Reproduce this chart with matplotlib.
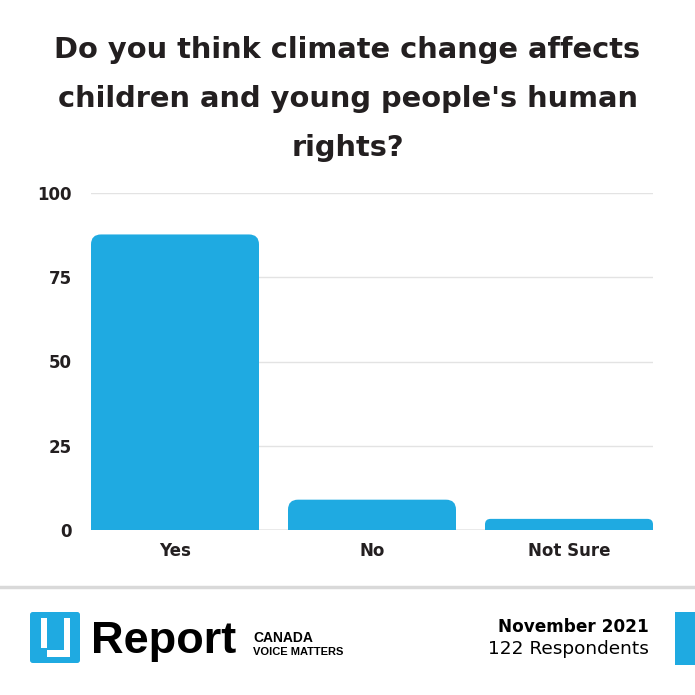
import matplotlib.pyplot as plt
from matplotlib.patches import Rectangle, FancyBboxPatch

# Survey data
categories = ["Yes", "No", "Not Sure"]
values = [87.7, 9.0, 3.3]
yticks = [0, 25, 50, 75, 100]

title_lines = ["Do you think climate change affects",
               "children and young people's human",
               "rights?"]
blue = "#1faae1"
dark = "#231f20"

plt.rcParams['font.family'] = ['DejaVu Sans']

fig = plt.figure(figsize=(6.95, 6.95), dpi=100)
W = H = 695.0

# axes placed in pixel terms
ax = fig.add_axes([91 / W, 1 - 530 / H, (653 - 91) / W, (530 - 193) / H])

w = 168 / 197
px_x = 197.0   # pixels per x unit
px_y = 3.37    # pixels per y unit
x = range(len(categories))
for xi, v in zip(x, values):
    r_px = min(10.0, v * px_y / 2)
    bar = FancyBboxPatch((xi - w / 2, 0), w, v,
                         boxstyle="round,pad=0,rounding_size=%f" % (r_px / px_x),
                         mutation_aspect=px_x / px_y,
                         facecolor=blue, edgecolor="none", zorder=3)
    ax.add_patch(bar)
    # square off the bottom corners
    ax.add_patch(Rectangle((xi - w / 2, 0), w, v / 2, facecolor=blue,
                           edgecolor="none", zorder=3))

ax.set_xlim(-w / 2, 2 + w / 2)
ax.set_ylim(0, 100)
ax.set_xticks(list(x))
ax.set_xticklabels(categories, fontsize=12, fontweight="bold", color=dark)
ax.set_yticks(yticks)
ax.set_yticklabels([str(t) for t in yticks], fontsize=12, fontweight="bold", color=dark)
ax.tick_params(length=0, pad=14, axis="y")
ax.tick_params(length=0, pad=9, axis="x")
for s in ax.spines.values():
    s.set_visible(False)
ax.grid(axis="y", color="#e3e3e3", linewidth=1, zorder=0)
ax.axhline(0, color="#b0b0b0", linewidth=1, zorder=2)

for i, line in enumerate(title_lines):
    fig.text(0.5, 1 - (50 + 49 * i) / H, line, ha="center", va="center",
             fontsize=20.8, fontweight="bold", color=dark)

# footer separator
fig.add_artist(plt.Line2D([0, 1], [1 - 587 / H, 1 - 587 / H], color="#d9d9d9",
                          linewidth=2.5, transform=fig.transFigure))

# logo
def px(x0, y0, x1, y1, color):
    fig.add_artist(Rectangle((x0 / W, 1 - y1 / H), (x1 - x0) / W, (y1 - y0) / H,
                             facecolor=color, edgecolor="none",
                             transform=fig.transFigure))

fig.add_artist(FancyBboxPatch((30 / W, 1 - 663 / H), 50 / W, 51 / H,
                              boxstyle="round,pad=0,rounding_size=0.004",
                              facecolor=blue, edgecolor="none",
                              transform=fig.transFigure))
px(41, 618, 47, 648, "white")
px(47, 650, 70, 657, "white")
px(64, 618, 70, 657, "white")

fig.text(91 / W, 1 - 653 / H, "Report", fontsize=32.5, fontweight="bold",
         family=["Liberation Sans", "DejaVu Sans"], color="black",
         ha="left", va="baseline")
fig.text(253 / W, 1 - 642 / H, "CANADA", fontsize=10, fontweight="bold",
         family=["Liberation Sans", "DejaVu Sans"], color="black",
         ha="left", va="baseline")
fig.text(253 / W, 1 - 655 / H, "VOICE MATTERS", fontsize=8, fontweight="bold",
         family=["Liberation Sans", "DejaVu Sans"], color="black",
         ha="left", va="baseline")

fig.text(649 / W, 1 - 632 / H, "November 2021", fontsize=12.2, fontweight="bold",
         color="black", ha="right", va="baseline")
fig.text(649 / W, 1 - 654 / H, "122 Respondents", fontsize=13.3,
         color="black", ha="right", va="baseline")
px(675, 612, 695, 665, blue)

fig.savefig("out.png", dpi=100, facecolor="white")
